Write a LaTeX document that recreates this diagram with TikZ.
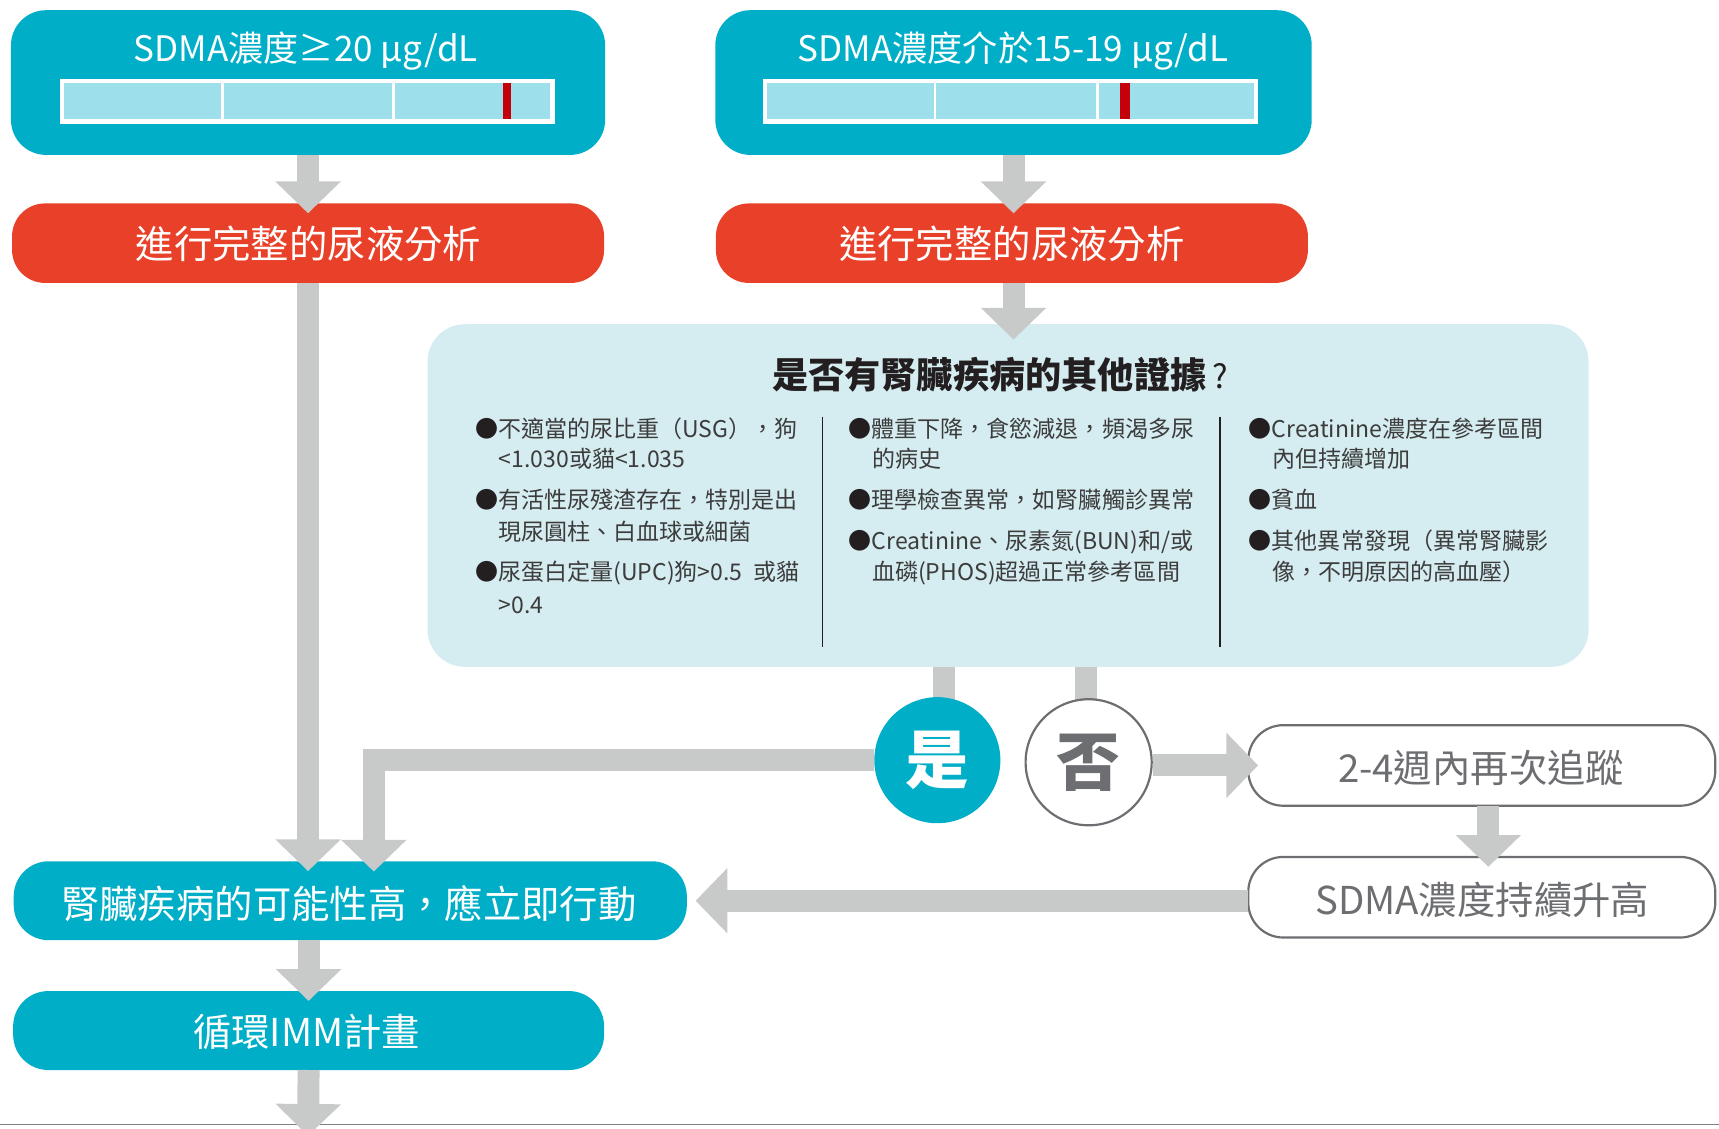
\documentclass[tikz,border=0pt]{standalone}
\usepackage{fontspec}
\setmainfont{Noto Sans CJK TC}
\usetikzlibrary{arrows.meta}
\definecolor{cTeal}{RGB}{0,174,199}
\definecolor{cRed}{RGB}{233,65,41}
\definecolor{cGauge}{RGB}{157,223,234}
\definecolor{cMark}{RGB}{196,0,11}
\definecolor{cPanel}{RGB}{213,236,240}
\definecolor{cArrow}{RGB}{200,201,201}
\definecolor{cGray}{RGB}{109,110,113}
\definecolor{cBody}{RGB}{60,60,60}
\definecolor{cInk}{RGB}{35,31,32}
\definecolor{cLine}{RGB}{128,128,128}
\newcommand\myfs[1]{\fontsize{#1pt}{#1pt}\selectfont}
\newcommand\bul{{\color{cInk}●}}
\begin{document}
\begin{tikzpicture}[x=1pt,y=-1pt,
  box/.style={inner sep=0pt, outer sep=0pt},
  tealbox/.style={box, fill=cTeal, rounded corners=32pt},
  redbox/.style={box, fill=cRed, rounded corners=30pt},
  whitebox/.style={box, draw=cGray, line width=2pt, fill=white, rounded corners=32pt},
  wlabel/.style={inner sep=0pt, text=white},
  glabel/.style={inner sep=0pt, text=cGray},
  body/.style={anchor=west, inner sep=0pt, text=cBody, font=\myfs{21}, text height=18.5pt, text depth=2.5pt},
  gline/.style={draw=cArrow, line width=20pt},
  arr/.style={draw=cArrow, line width=20pt, -{Triangle[width=58pt,length=29pt]}, shorten >=-9pt},
  sep/.style={draw=cInk, line width=1.3pt}
]
\useasboundingbox (0,0) rectangle (1568,1029);

% bottom rule
\draw[cLine, line width=1.5pt] (0,1025.6) -- (1568,1025.6);

% ---- top boxes
\node[tealbox, minimum width=542pt, minimum height=132pt] (b1) at (281,75.3) {};
\node[tealbox, minimum width=544pt, minimum height=132pt] (b2) at (924.5,75.3) {};
\node[wlabel, font=\myfs{32}] (t1) at (279,46.5) {SDMA濃度≥20 μg/dL};
\node[wlabel, font=\myfs{32}] (t2) at (924,46.5) {SDMA濃度介於15-19 μg/dL};

% gauges
\fill[white] (54.9,72) rectangle (506,113);
\fill[cGauge] (58.8,76) rectangle (202,108.6);
\fill[cGauge] (204.7,76) rectangle (358,108.6);
\fill[cGauge] (360.6,76) rectangle (501.8,108.6);
\fill[cMark] (458.5,76) rectangle (466.4,108.6);
\fill[white] (695.7,72) rectangle (1147.7,113);
\fill[cGauge] (700,76) rectangle (851.7,108.6);
\fill[cGauge] (854.2,76) rectangle (999.7,108.6);
\fill[cGauge] (1002.3,76) rectangle (1143.4,108.6);
\fill[cMark] (1022,76) rectangle (1030.4,108.6);

% ---- red boxes
\node[redbox, minimum width=540pt, minimum height=72.5pt] (r1) at (281,221.8) {};
\node[redbox, minimum width=540pt, minimum height=72.5pt] (r2) at (923,221.8) {};
\node[wlabel, font=\myfs{35}] (rt1) at (281.4,222) {進行完整的尿液分析};
\node[wlabel, font=\myfs{35}] (rt2) at (923,222) {進行完整的尿液分析};

% ---- panel
\node[box, fill=cPanel, rounded corners=34pt, minimum width=1059pt, minimum height=312.5pt] (panel) at (919.5,452) {};
\node[inner sep=0pt, text=cInk, font=\myfs{33}] (ptitle) at (912.5,342) {{\bfseries 是否有腎臟疾病的其他證據}\hspace{6pt}{\myfs{30}?}};
\coordinate (s1a) at (750.3,380);
\coordinate (s1b) at (750.3,590);
\coordinate (s2a) at (1113,380);
\coordinate (s2b) at (1113,590);
\draw[sep] (s1a) -- (s1b);
\draw[sep] (s2a) -- (s2b);

% column 1
\node[body] (c1a) at (433.4,390.8) {\bul 不適當的尿比重（USG），狗};
\node[body] (c1b) at (454.7,418.2) {<1.030或貓<1.035};
\node[body] (c1c) at (433.4,456) {\bul 有活性尿殘渣存在，特別是出};
\node[body] (c1d) at (454.7,485) {現尿圓柱、白血球或細菌};
\node[body] (c1e) at (433.4,521.6) {\bul 尿蛋白定量(UPC)狗>0.5\hspace{10pt}或貓};
\node[body] (c1f) at (454.7,552) {>0.4};
% column 2
\node[body] (c2a) at (774,390.8) {\bul 體重下降，食慾減退，頻渴多尿};
\node[body] (c2b) at (795.3,418.2) {的病史};
\node[body] (c2c) at (774,456) {\bul 理學檢查異常，如腎臟觸診異常};
\node[body] (c2d) at (774,493) {\bul Creatinine、尿素氮(BUN)和/或};
\node[body] (c2e) at (795.3,521.6) {血磷(PHOS)超過正常參考區間};
% column 3
\node[body] (c3a) at (1139,390.8) {\bul Creatinine濃度在參考區間};
\node[body] (c3b) at (1160.3,418.2) {內但持續增加};
\node[body] (c3c) at (1139,456) {\bul 貧血};
\node[body] (c3d) at (1139,493) {\bul 其他異常發現（異常腎臟影};
\node[body] (c3e) at (1160.3,521.6) {像，不明原因的高血壓）};

% ---- lower boxes
\node[tealbox, minimum width=614pt, minimum height=72pt] (kid) at (319.5,821.6) {};
\node[wlabel, font=\myfs{35}] (kidt) at (318.3,824) {腎臟疾病的可能性高，應立即行動};
\node[tealbox, minimum width=539pt, minimum height=72pt] (loop) at (281.5,940) {};
\node[wlabel, font=\myfs{35}] (loopt) at (279.7,941.6) {循環IMM計畫};
\node[whitebox, minimum width=426pt, minimum height=73.5pt] (follow) at (1351.6,698.2) {};
\node[glabel, font=\myfs{35}] (followt) at (1351,700) {2-4週內再次追蹤};
\node[whitebox, minimum width=426pt, minimum height=73.5pt] (sdma) at (1351.6,818.4) {};
\node[glabel, font=\myfs{35}] (sdmat) at (1352,821) {SDMA濃度持續升高};

% ---- connectors
\coordinate (ys) at (860.7,608);
\coordinate (ns) at (990.5,608);
\coordinate (kidin) at (341,786);
\coordinate (bend) at (281,1027);
\draw[arr] (b1.south) -- (b1.south |- r1.north);
\draw[arr] (b2.south) -- (b2.south |- r2.north);
\draw[arr, shorten >=-14pt] (b2.south |- r2.south) -- (b2.south |- panel.north);
\draw[arr] (r1.south) -- (r1.south |- kid.north);
\draw[arr] (loop.north |- kid.south) -- (loop.north);
\draw[arr] (loop.south) -- (bend);
\draw[gline] (ys) -- (ys |- 0,693);
\draw[gline] (ns) -- (ns |- 0,693);

% circles
\node[circle, fill=cTeal, minimum size=115pt, inner sep=0pt, text=white, font=\myfs{58}\bfseries] (yes) at (855,693.4) {是};
\node[circle, draw=cGray, line width=2pt, fill=white, minimum size=115pt, inner sep=0pt, text=cGray, font=\myfs{58}\bfseries] (no) at (993,695.3) {否};

\draw[arr] (yes.west) -| (kidin);
\draw[arr] (no.east |- follow.west) -- (follow.west);
\draw[arr] ([xshift=6pt]follow.south) -- ([xshift=6pt]sdma.north);
\draw[arr, shorten >=8pt] (sdma.west |- kid.east) -- (kid.east);
\end{tikzpicture}
\end{document}
